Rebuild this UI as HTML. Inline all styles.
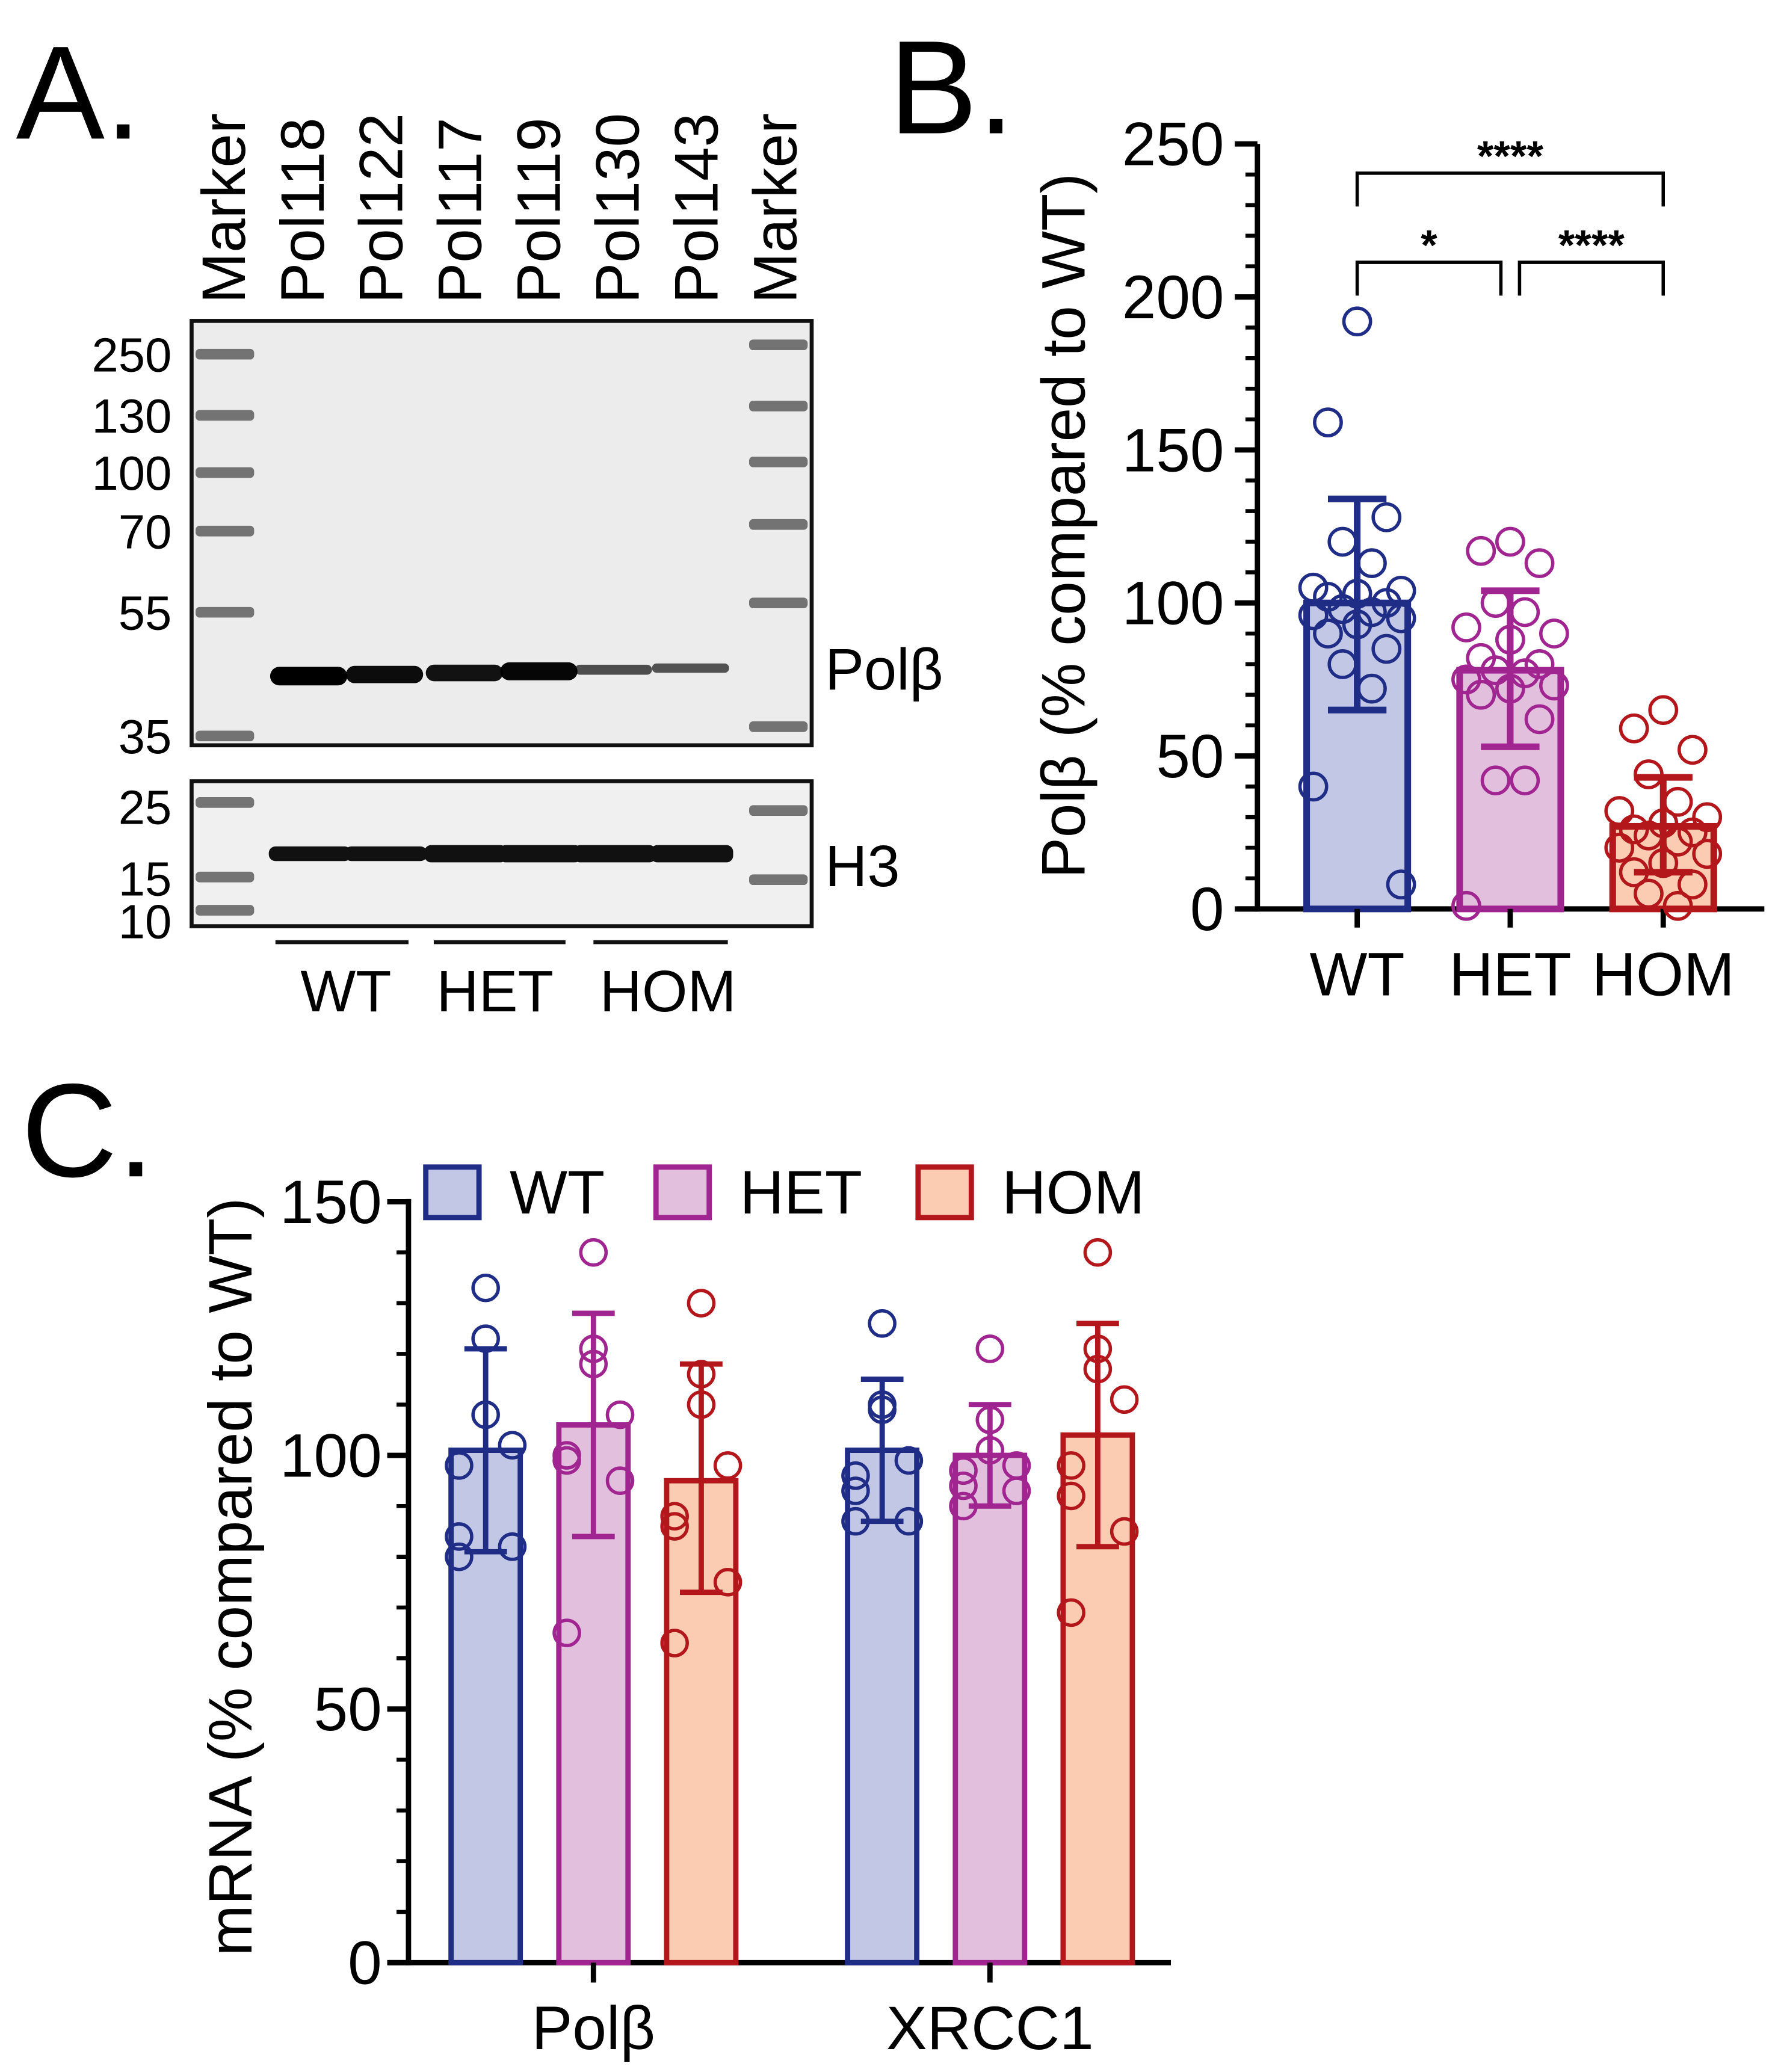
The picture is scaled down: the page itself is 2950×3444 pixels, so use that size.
<!DOCTYPE html>
<html><head><meta charset="utf-8"><style>
html,body{margin:0;padding:0;background:#fff;}
svg{display:block;}
text{font-family:"Liberation Sans",sans-serif;fill:#000;}
</style></head><body>
<svg id="fig" width="2950" height="3444" viewBox="0 0 1334 1557" xmlns="http://www.w3.org/2000/svg">
<!-- Panel A -->
<g>
<text x="12" y="104" font-size="100">A.</text>
<g id="lanes"></g>
<rect x="144" y="241" width="466" height="319" fill="#ececec" stroke="#111" stroke-width="3"/>
<rect x="144" y="587" width="466" height="109" fill="#f0f0f0" stroke="#111" stroke-width="3"/>
<g id="mw"></g>
<g id="bands"></g>
<text x="620" y="518" font-size="44">Polβ</text>
<text x="620" y="666" font-size="44">H3</text>
<g>
<line x1="207" x2="307" y1="708" y2="708" stroke="#111" stroke-width="3"/>
<line x1="326" x2="425" y1="708" y2="708" stroke="#111" stroke-width="3"/>
<line x1="446" x2="547" y1="708" y2="708" stroke="#111" stroke-width="3"/>
<text x="260" y="760" font-size="44" text-anchor="middle">WT</text>
<text x="372" y="760" font-size="44" text-anchor="middle">HET</text>
<text x="502" y="760" font-size="44" text-anchor="middle">HOM</text>
</g>
</g>
<!-- Panel B -->
<g id="panelB">
<text x="668" y="100" font-size="100">B.</text>
<text transform="translate(815,395) rotate(-90)" font-size="46" text-anchor="middle">Polβ (% compared to WT)</text>
</g>
<!-- Panel C -->
<g id="panelC">
<text x="16" y="884" font-size="100">C.</text>
<text transform="translate(189,1185) rotate(-90)" font-size="46" text-anchor="middle">mRNA (% compared to WT)</text>
</g>
</svg>
<script>
const NS="http://www.w3.org/2000/svg";
// ---- Panel A data ----
const laneLabels=["Marker","Pol118","Pol122","Pol117","Pol119","Pol130","Pol143","Marker"];
const mwLabels=["250","130","100","70","55","35"];
const mwLabelsH3=["25","15","10"];
const polbIntensity=[1.0,0.9,0.85,0.95,0.35,0.3];
// ---- Panel B data ----
const bGroups=["WT","HET","HOM"];
const bMeans=[100,78,27];
const bSdLow=[65,53,12];
const bSdHigh=[134,104,43];
const bWT=[192,159,128,120,113,105,104,103,102,100,98,97,96,95,93,90,85,80,72,40,8];
const bHET=[120,117,113,100,97,92,90,88,82,80,78,77,75,73,72,70,62,42,42,1];
const bHOM=[65,59,52,44,35,32,30,28,26,25,24,22,20,18,15,12,8,5,1];
const bTicks=[0,50,100,150,200,250];
// ---- Panel C data ----
const cGenes=["Polβ","XRCC1"];
const cGenotypes=["WT","HET","HOM"];
const cMeans=[[101,106,95],[101,100,104]];
const cSdLow=[[81,84,73],[87,90,82]];
const cSdHigh=[[121,128,118],[115,110,126]];
const cPolbWT=[133,123,108,102,98,84,82,80];
const cPolbHET=[140,121,118,108,100,99,95,65];
const cPolbHOM=[130,116,110,98,88,86,75,63];
const cXrccWT=[126,110,109,99,96,93,87,87];
const cXrccHET=[121,107,101,98,97,94,93,90];
const cXrccHOM=[140,121,117,111,98,92,85,69];
const cTicks=[0,50,100,150];

const stroke=["#1f2d86","#a02590","#b3161b"];
const fill=["#c3c7e6","#e2bfdd","#fbcbb2"];
function el(tag,attrs,parent){const e=document.createElementNS(NS,tag);for(const k in attrs)e.setAttribute(k,attrs[k]);parent.appendChild(e);return e;}

// Panel A
const lanesG=document.getElementById('lanes');
const laneX=i=>168+i*59.2;
laneLabels.forEach((t,i)=>{const e=el('text',{transform:`translate(${laneX(i)+16},228) rotate(-90)`,'font-size':46},lanesG);e.textContent=t;

});
const mwG=document.getElementById('mw');
const mwY=[266,312,355,399,460,553];
mwLabels.forEach((t,i)=>{const e=el('text',{x:129,y:mwY[i]+13,'font-size':36,'text-anchor':'end'},mwG);e.textContent=t;

});
const mwY2=[606,660,692];
mwLabelsH3.forEach((t,i)=>{const e=el('text',{x:129,y:mwY2[i]+13,'font-size':36,'text-anchor':'end'},mwG);e.textContent=t;

});
const bandsG=document.getElementById('bands');
[[168,[266,312,355,399,460,553,603,659,684]],[584,[259,305,347,394,453,546,609,661]]].forEach(([x,ys])=>{ys.forEach(y=>{const b=el('rect',{x:x-21,y:y-4,width:44,height:8,rx:3,fill:'#555',opacity:0.8},bandsG);

});});
polbIntensity.forEach((v,i)=>{const cx=[233,290,350,406,462,520][i];const h=4+10*v;
const b=el('rect',{x:cx-30,y:508-h/2-(i*1.2),width:58,height:h,rx:h/2,fill:'#000',opacity:0.5+0.5*v},bandsG);


const h3=el('rect',{x:cx-31,y:641-5-(i>1?1:0),width:62,height:11+(i>1?2:0),rx:5,fill:'#111'},bandsG);

});

// Panel B
const pB=document.getElementById('panelB');
const bY=v=>683-v*2.3;const bX=i=>1020+i*115;const bW=76;
el('line',{x1:945,x2:945,y1:108,y2:685,stroke:'#000','stroke-width':4},pB);
el('line',{x1:930,x2:1326,y1:683,y2:683,stroke:'#000','stroke-width':4},pB);
for(let v=0;v<=250;v+=10){const major=v%50===0;el('line',{x1:major?928:936,x2:945,y1:bY(v),y2:bY(v),stroke:'#000','stroke-width':major?4:3},pB);}
bTicks.forEach(v=>{const t=el('text',{x:920,y:bY(v)+16,'font-size':46,'text-anchor':'end'},pB);t.textContent=v;

});
const bPts=[bWT,bHET,bHOM];
bGroups.forEach((g,i)=>{const x=bX(i);
const r=el('rect',{x:x-bW/2,y:bY(bMeans[i]),width:bW,height:bY(0)-bY(bMeans[i]),fill:fill[i],stroke:stroke[i],'stroke-width':5},pB);


el('line',{x1:x,x2:x,y1:683,y2:697,stroke:'#000','stroke-width':4},pB);
bPts[i].forEach((v,k)=>{const off=[0,-1,1,-0.5,0.5,-1.5,1.5][k%7]*22;
const c=el('circle',{cx:x+off,cy:bY(v),r:10,fill:'none',stroke:stroke[i],'stroke-width':2.5},pB);

});
el('line',{x1:x,x2:x,y1:bY(bSdHigh[i]),y2:bY(bSdLow[i]),stroke:stroke[i],'stroke-width':5},pB);
el('line',{x1:x-22,x2:x+22,y1:bY(bSdHigh[i]),y2:bY(bSdHigh[i]),stroke:stroke[i],'stroke-width':5},pB);
el('line',{x1:x-22,x2:x+22,y1:bY(bSdLow[i]),y2:bY(bSdLow[i]),stroke:stroke[i],'stroke-width':5},pB);
const t=el('text',{x:x,y:748,'font-size':46,'text-anchor':'middle'},pB);t.textContent=g;

});
[[1020,1250,130,155,"****"],[1020,1128,197,222,"*"],[1142,1250,197,222,"****"]].forEach(([a,b,y1,y2,s])=>{
const p=el('path',{d:`M${a},${y2}V${y1}H${b}V${y2}`,fill:'none',stroke:'#000','stroke-width':2.5},pB);


const t=el('text',{x:(a+b)/2,y:y1-2,'font-size':32,'font-weight':'bold','text-anchor':'middle'},pB);t.textContent=s;

});

// Panel C
const pC=document.getElementById('panelC');
const cY=v=>1475-v*3.813;const cX=(g,j)=>365+g*298+j*81;const cW=52;
el('line',{x1:307,x2:307,y1:901,y2:1477,stroke:'#000','stroke-width':4},pC);
el('line',{x1:292,x2:880,y1:1475,y2:1475,stroke:'#000','stroke-width':4},pC);
for(let v=0;v<=150;v+=10){const major=v%50===0;el('line',{x1:major?291:298,x2:307,y1:cY(v),y2:cY(v),stroke:'#000','stroke-width':major?4:3},pC);}
cTicks.forEach(v=>{const t=el('text',{x:287,y:cY(v)+16,'font-size':46,'text-anchor':'end'},pC);t.textContent=v;

});
const cPts=[[cPolbWT,cPolbHET,cPolbHOM],[cXrccWT,cXrccHET,cXrccHOM]];
cGenes.forEach((gn,g)=>{
cGenotypes.forEach((gt,j)=>{const x=cX(g,j);
const r=el('rect',{x:x-cW/2,y:cY(cMeans[g][j]),width:cW,height:cY(0)-cY(cMeans[g][j]),fill:fill[j],stroke:stroke[j],'stroke-width':4},pC);


cPts[g][j].forEach((v,k)=>{const off=[0,0,0,1,-1,-1,1,-1][k%8]*20;
const c=el('circle',{cx:x+off,cy:cY(v),r:9.5,fill:'none',stroke:stroke[j],'stroke-width':2.5},pC);

});
el('line',{x1:x,x2:x,y1:cY(cSdHigh[g][j]),y2:cY(cSdLow[g][j]),stroke:stroke[j],'stroke-width':4},pC);
el('line',{x1:x-16,x2:x+16,y1:cY(cSdHigh[g][j]),y2:cY(cSdHigh[g][j]),stroke:stroke[j],'stroke-width':4},pC);
el('line',{x1:x-16,x2:x+16,y1:cY(cSdLow[g][j]),y2:cY(cSdLow[g][j]),stroke:stroke[j],'stroke-width':4},pC);});
const cx=cX(g,1);el('line',{x1:cx,x2:cx,y1:1475,y2:1490,stroke:'#000','stroke-width':4},pC);
const t=el('text',{x:cx,y:1540,'font-size':46,'text-anchor':'middle'},pC);t.textContent=gn;

});
cGenotypes.forEach((gt,j)=>{const lx=[320,493,690][j];
const r=el('rect',{x:lx,y:877,width:40,height:38,fill:fill[j],stroke:stroke[j],'stroke-width':4},pC);


const t=el('text',{x:lx+63,y:912,'font-size':46},pC);t.textContent=gt;

});
</script>
</body></html>
